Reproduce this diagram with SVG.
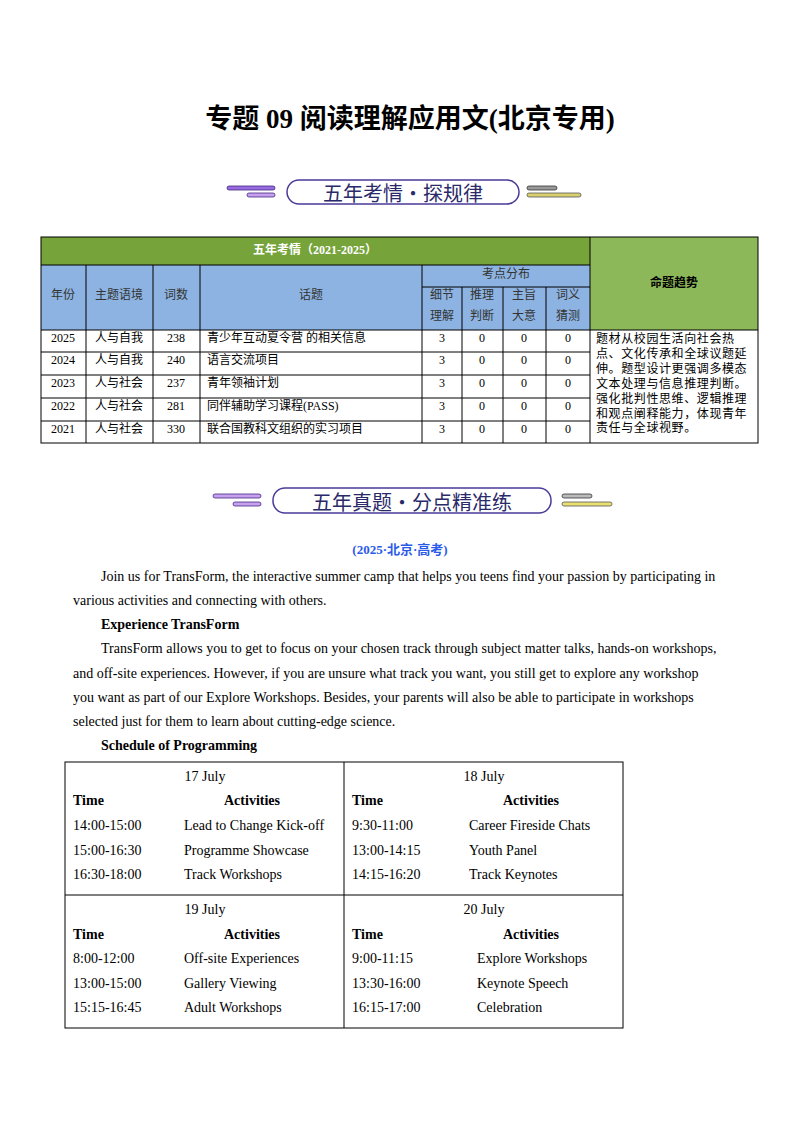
<svg xmlns="http://www.w3.org/2000/svg" width="800" height="1132" viewBox="0 0 800 1132">
<style>
.cn{font-family:"Liberation Serif","Noto Sans CJK SC",serif;font-size:12px;fill:#000}
.c{text-anchor:middle}
.en{font-family:"Liberation Serif","Noto Sans CJK SC",serif;font-size:14px;fill:#000}
.b{font-weight:bold}
.ln{stroke:#000;stroke-width:1;fill:none}
.bn{font-family:"Noto Sans CJK SC",sans-serif;font-size:20px;fill:#2a2a6a;text-anchor:middle}
</style>
<rect width="800" height="1132" fill="#fff"/>
<text x="410" y="128" text-anchor="middle" font-family="Liberation Serif,Noto Sans CJK SC,serif" font-size="27" font-weight="bold">专题 09  阅读理解应用文(北京专用)</text>
<g id="banner1">
<rect x="227" y="186" width="48" height="4" rx="2" fill="#9a6ae0" stroke="#402a80" stroke-width="0.8"/>
<rect x="247" y="193" width="28" height="4" rx="2" fill="#c8a0f0" stroke="#402a80" stroke-width="0.8"/>
<rect x="287" y="180" width="232" height="24" rx="12" fill="#fff" stroke="#4a3a9a" stroke-width="1.5"/>
<text x="403" y="201" class="bn">五年考情・探规律</text>
<rect x="527" y="186" width="30" height="4" rx="2" fill="#999" stroke="#333" stroke-width="0.8"/>
<rect x="527" y="193" width="54" height="4" rx="2" fill="#d8d070" stroke="#555" stroke-width="0.8"/>
</g>
<g id="table1">
<rect x="41" y="237" width="549" height="28" fill="#76a33a"/>
<rect x="590" y="237" width="168" height="93" fill="#8db85a"/>
<rect x="41" y="265" width="549" height="65" fill="#8db3e2"/>
<g class="ln">
<rect x="41" y="237" width="717" height="206"/>
<line x1="41" y1="265" x2="590" y2="265"/>
<line x1="422" y1="287" x2="590" y2="287"/>
<line x1="41" y1="330" x2="758" y2="330"/>
<line x1="41" y1="352" x2="590" y2="352"/><line x1="41" y1="375" x2="590" y2="375"/>
<line x1="41" y1="398" x2="590" y2="398"/><line x1="41" y1="421" x2="590" y2="421"/>
<line x1="590" y1="237" x2="590" y2="443"/>
<line x1="86" y1="265" x2="86" y2="443"/><line x1="153" y1="265" x2="153" y2="443"/>
<line x1="200" y1="265" x2="200" y2="443"/><line x1="422" y1="265" x2="422" y2="443"/>
<line x1="462" y1="287" x2="462" y2="443"/><line x1="503" y1="287" x2="503" y2="443"/>
<line x1="546" y1="287" x2="546" y2="443"/>
</g>
<text x="315" y="254" class="cn c b" fill="#fff" style="fill:#fff">五年考情（2021-2025）</text>
<text x="674" y="287" class="cn c b" font-size="13">命题趋势</text>
<text x="506" y="278" class="cn c" style="fill:#333">考点分布</text>
<text x="63" y="299" class="cn c" style="fill:#333">年份</text>
<text x="119" y="299" class="cn c" style="fill:#333">主题语境</text>
<text x="176" y="299" class="cn c" style="fill:#333">词数</text>
<text x="311" y="299" class="cn c" style="fill:#333">话题</text>
<g class="cn c" style="fill:#333">
<text x="442" y="299">细节</text><text x="442" y="320">理解</text>
<text x="482" y="299">推理</text><text x="482" y="320">判断</text>
<text x="524" y="299">主旨</text><text x="524" y="320">大意</text>
<text x="568" y="299">词义</text><text x="568" y="320">猜测</text>
</g>
<g class="cn">
<text x="63" y="342" class="c">2025</text><text x="119" y="342" class="c">人与自我</text><text x="176" y="342" class="c">238</text><text x="207" y="342">青少年互动夏令营  的相关信息</text>
<text x="63" y="364" class="c">2024</text><text x="119" y="364" class="c">人与自我</text><text x="176" y="364" class="c">240</text><text x="207" y="364">语言交流项目</text>
<text x="63" y="387" class="c">2023</text><text x="119" y="387" class="c">人与社会</text><text x="176" y="387" class="c">237</text><text x="207" y="387">青年领袖计划</text>
<text x="63" y="410" class="c">2022</text><text x="119" y="410" class="c">人与社会</text><text x="176" y="410" class="c">281</text><text x="207" y="410">同伴辅助学习课程(PASS)</text>
<text x="63" y="433" class="c">2021</text><text x="119" y="433" class="c">人与社会</text><text x="176" y="433" class="c">330</text><text x="207" y="433">联合国教科文组织的实习项目</text>
</g>
<g class="cn c">
<text x="442" y="342">3</text><text x="482" y="342">0</text><text x="524" y="342">0</text><text x="568" y="342">0</text>
<text x="442" y="364">3</text><text x="482" y="364">0</text><text x="524" y="364">0</text><text x="568" y="364">0</text>
<text x="442" y="387">3</text><text x="482" y="387">0</text><text x="524" y="387">0</text><text x="568" y="387">0</text>
<text x="442" y="410">3</text><text x="482" y="410">0</text><text x="524" y="410">0</text><text x="568" y="410">0</text>
<text x="442" y="433">3</text><text x="482" y="433">0</text><text x="524" y="433">0</text><text x="568" y="433">0</text>
</g>
<g class="cn" style="font-size:12px;letter-spacing:0.6px">
<text x="596" y="343">题材从校园生活向社会热</text>
<text x="596" y="358">点、文化传承和全球议题延</text>
<text x="596" y="373">伸。题型设计更强调多模态</text>
<text x="596" y="388">文本处理与信息推理判断。</text>
<text x="596" y="403">强化批判性思维、逻辑推理</text>
<text x="596" y="418">和观点阐释能力，体现青年</text>
<text x="596" y="432">责任与全球视野。</text>
</g>
</g>
<g id="banner2">
<rect x="213" y="494" width="48" height="4" rx="2" fill="#c8a0f0" stroke="#402a80" stroke-width="0.8"/>
<rect x="233" y="502" width="28" height="4" rx="2" fill="#c8a0f0" stroke="#402a80" stroke-width="0.8"/>
<rect x="273" y="488" width="278" height="25" rx="12" fill="#fff" stroke="#4a3a9a" stroke-width="1.5"/>
<text x="412" y="510" class="bn">五年真题・分点精准练</text>
<rect x="562" y="494" width="30" height="4" rx="2" fill="#bbb" stroke="#333" stroke-width="0.8"/>
<rect x="562" y="502" width="50" height="4" rx="2" fill="#e8e070" stroke="#555" stroke-width="0.8"/>
</g>
<text x="400" y="554" text-anchor="middle" font-family="Liberation Serif,Noto Sans CJK SC,serif" font-size="13" font-weight="bold" fill="#2a5ae8">(2025·北京·高考)</text>
<g class="en">
<text x="101" y="581">Join us for TransForm, the interactive summer camp that helps you teens find your passion by participating in</text>
<text x="73" y="605">various activities and connecting with others.</text>
<text x="101" y="629" class="b">Experience TransForm</text>
<text x="101" y="653">TransForm allows you to get to focus on your chosen track through subject matter talks, hands-on workshops,</text>
<text x="73" y="678">and off-site experiences. However, if you are unsure what track you want, you still get to explore any workshop</text>
<text x="73" y="702">you want as part of our Explore Workshops. Besides, your parents will also be able to participate in workshops</text>
<text x="73" y="726">selected just for them to learn about cutting-edge science.</text>
<text x="101" y="750" class="b">Schedule of Programming</text>
</g>
<g id="table2">
<g class="ln"><rect x="65" y="762" width="558" height="266"/><line x1="344" y1="762" x2="344" y2="1028"/><line x1="65" y1="895" x2="623" y2="895"/></g>
<g class="en">
<text x="205" y="781" text-anchor="middle">17 July</text>
<text x="73" y="805" class="b">Time</text><text x="252" y="805" class="b" text-anchor="middle">Activities</text>
<text x="73" y="830">14:00-15:00</text><text x="184" y="830">Lead to Change Kick-off</text>
<text x="73" y="855">15:00-16:30</text><text x="184" y="855">Programme Showcase</text>
<text x="73" y="879">16:30-18:00</text><text x="184" y="879">Track Workshops</text>
<text x="484" y="781" text-anchor="middle">18 July</text>
<text x="352" y="805" class="b">Time</text><text x="531" y="805" class="b" text-anchor="middle">Activities</text>
<text x="352" y="830">9:30-11:00</text><text x="469" y="830">Career Fireside Chats</text>
<text x="352" y="855">13:00-14:15</text><text x="469" y="855">Youth Panel</text>
<text x="352" y="879">14:15-16:20</text><text x="469" y="879">Track Keynotes</text>
<text x="205" y="914" text-anchor="middle">19 July</text>
<text x="73" y="939" class="b">Time</text><text x="252" y="939" class="b" text-anchor="middle">Activities</text>
<text x="73" y="963">8:00-12:00</text><text x="184" y="963">Off-site Experiences</text>
<text x="73" y="988">13:00-15:00</text><text x="184" y="988">Gallery Viewing</text>
<text x="73" y="1012">15:15-16:45</text><text x="184" y="1012">Adult Workshops</text>
<text x="484" y="914" text-anchor="middle">20 July</text>
<text x="352" y="939" class="b">Time</text><text x="531" y="939" class="b" text-anchor="middle">Activities</text>
<text x="352" y="963">9:00-11:15</text><text x="477" y="963">Explore Workshops</text>
<text x="352" y="988">13:30-16:00</text><text x="477" y="988">Keynote Speech</text>
<text x="352" y="1012">16:15-17:00</text><text x="477" y="1012">Celebration</text>
</g>
</g>
</svg>
